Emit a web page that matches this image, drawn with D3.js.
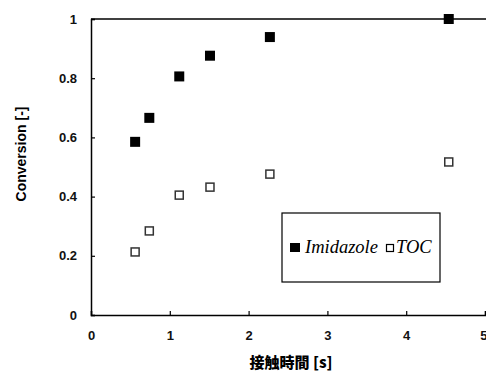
<!DOCTYPE html>
<html>
<head>
<meta charset="utf-8">
<script src="https://cdn.jsdelivr.net/npm/d3@7"></script>
<style>
  body { margin: 0; background: #fff; }
  .tick text { font-family: "Liberation Sans Narrow", "Liberation Sans", Arial, sans-serif; font-weight: bold; font-size: 13px; fill: #111; }
</style>
</head>
<body>
<div id="chart"></div>
<script>
// contact time [s]
var contactTime = [0.56, 0.74, 1.12, 1.51, 2.27, 4.54];
var imidazole = [0.585, 0.666, 0.806, 0.876, 0.939, 1.0];
var toc = [0.213, 0.284, 0.405, 0.432, 0.476, 0.517];
var xTicks = [0, 1, 2, 3, 4, 5];
var yTicks = [0, 0.2, 0.4, 0.6, 0.8, 1];

var W = 486, H = 372;
var margin = {top: 19, right: 1, bottom: 57, left: 91};
var width = W - margin.left - margin.right,
    height = H - margin.top - margin.bottom;

var svg = d3.select("#chart").append("svg")
    .attr("width", W)
    .attr("height", H);

var g = svg.append("g")
    .attr("transform", "translate(" + margin.left + "," + margin.top + ")");

var x = d3.scaleLinear().domain([0, 5]).range([0, width]);
var y = d3.scaleLinear().domain([0, 1]).range([height, 0]);

// top border
g.append("line")
    .attr("x1", 0).attr("x2", width + 1)
    .attr("y1", 0).attr("y2", 0)
    .attr("stroke", "#000").attr("stroke-width", 1.5);

var xAxis = g.append("g")
    .attr("transform", "translate(0," + height + ")")
    .call(d3.axisBottom(x).tickValues(xTicks).tickFormat(d3.format("d")).tickSize(-4).tickPadding(16));
var yAxis = g.append("g")
    .call(d3.axisLeft(y).tickValues(yTicks).tickFormat(function(d) { return d === 0 || d === 1 ? d : d.toFixed(1); }).tickSize(-4).tickPadding(14));

[xAxis, yAxis].forEach(function(a) {
    a.select(".domain").attr("stroke", "#000").attr("stroke-width", 1.5);
    a.selectAll(".tick line").attr("stroke", "#000").attr("stroke-width", 1.2);
});
xAxis.select(".tick:last-of-type text").attr("text-anchor", "end").attr("dx", "2");

var ms = 10;
g.selectAll(".imid")
    .data(contactTime)
    .enter().append("rect")
    .attr("class", "imid")
    .attr("x", function(d) { return x(d) - ms / 2; })
    .attr("y", function(d, i) { return y(imidazole[i]) - ms / 2; })
    .attr("width", ms).attr("height", ms)
    .attr("fill", "#000");

var mo = 8;
g.selectAll(".toc")
    .data(contactTime)
    .enter().append("rect")
    .attr("class", "toc")
    .attr("x", function(d) { return x(d) - mo / 2; })
    .attr("y", function(d, i) { return y(toc[i]) - mo / 2; })
    .attr("width", mo).attr("height", mo)
    .attr("fill", "#fff")
    .attr("stroke", "#333")
    .attr("stroke-width", 1.5);

// legend
var lg = svg.append("g").attr("transform", "translate(282,213)");
lg.append("rect")
    .attr("width", 158).attr("height", 69)
    .attr("fill", "#fff").attr("stroke", "#000").attr("stroke-width", 1.2);
lg.append("rect").attr("x", 8).attr("y", 30).attr("width", 10).attr("height", 9).attr("fill", "#000");
lg.append("text").attr("x", 23).attr("y", 40)
    .attr("font-family", "'Liberation Serif', 'DejaVu Serif', serif")
    .attr("font-style", "italic").attr("font-size", 18.5)
    .text("Imidazole");
lg.append("rect").attr("x", 104.5).attr("y", 31.5).attr("width", 7).attr("height", 7)
    .attr("fill", "#fff").attr("stroke", "#000").attr("stroke-width", 1.2);
lg.append("text").attr("x", 114).attr("y", 40)
    .attr("font-family", "'Liberation Serif', 'DejaVu Serif', serif")
    .attr("font-style", "italic").attr("font-size", 18.5)
    .text("TOC");

// axis titles
svg.append("text")
    .attr("transform", "translate(26,154) rotate(-90)")
    .attr("text-anchor", "middle")
    .attr("font-family", "'Liberation Sans Narrow', 'Liberation Sans', sans-serif")
    .attr("font-weight", "bold").attr("font-size", 14)
    .text("Conversion [-]");

svg.append("text")
    .attr("x", 291).attr("y", 368)
    .attr("text-anchor", "middle")
    .attr("font-family", "'Noto Sans CJK JP', 'Liberation Sans', sans-serif")
    .attr("font-weight", "900").attr("font-size", 15)
    .text("接触時間 [s]");
</script>
</body>
</html>
